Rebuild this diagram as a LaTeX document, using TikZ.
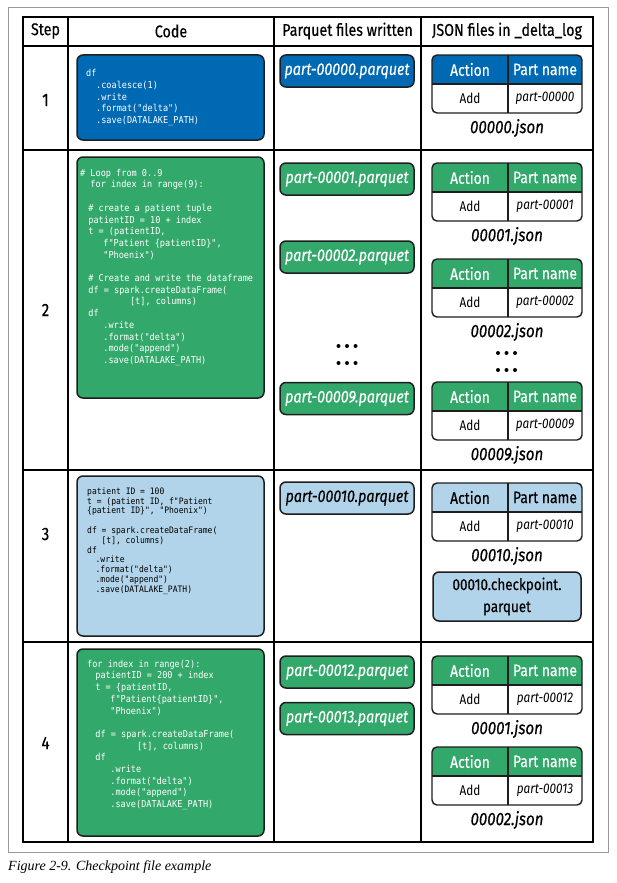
\documentclass[tikz,border=0pt]{standalone}
\usepackage{fontspec}
\setmainfont{Fira Sans}[FakeStretch=0.84, FakeBold=0.4]
\newfontfamily\lightf{Fira Sans}[FakeStretch=0.84]
\newfontfamily\codefont{DejaVu Sans Mono}[FakeStretch=0.9]
\newfontfamily\capfont{Liberation Serif}
\definecolor{oblue}{RGB}{0,105,180}
\definecolor{ogreen}{RGB}{51,168,107}
\definecolor{olight}{RGB}{178,212,234}
\definecolor{oline}{RGB}{30,30,30}
\tikzset{
  grid/.style={line width=1.8pt, black},
  tline/.style={line width=1.4pt, oline},
  codebox/.style={draw=oline, line width=1.5pt, rounded corners=6pt, inner sep=0pt},
  codetxt/.style={anchor=north west, align=left, inner sep=0pt},
  pq/.style={draw=oline, line width=1.5pt, rounded corners=6pt, minimum width=134pt, minimum height=32pt, inner sep=0pt, font=\fontsize{17}{20}\selectfont\itshape},
  hdr/.style={font=\fontsize{17}{20}\selectfont},
  stepnum/.style={font=\fontsize{18}{21}\selectfont},
  jh/.style={font=\fontsize{16.5}{20}\selectfont},
  jb/.style={font=\lightf\fontsize{14}{17}\selectfont},
  jbi/.style={font=\lightf\fontsize{14}{17}\selectfont\itshape},
  jname/.style={font=\fontsize{18}{21}\selectfont\itshape},
  dotc/.style={fill=black},
}
\newcommand\jtab[6]{%
  \begin{scope}
    \clip[rounded corners=5pt] (432,#2) rectangle (582,#2+58);
    \fill[#3] (432,#2) rectangle (582,#2+29);
  \end{scope}
  \draw[tline] (432,#2+29) -- (582,#2+29) (508,#2) -- (508,#2+58);
  \draw[tline, rounded corners=5pt] (432,#2) rectangle (582,#2+58);
  \node[jh, text=#4] (#1act) at (470,#2+14.5) {Action};
  \node[jh, text=#4] (#1pn) at (545,#2+14.5) {Part name};
  \node[jb] (#1add) at (470,#2+43.5) {Add};
  \node[jbi] (#1part) at (545,#2+43.5) {#5};
  \node[jname] (#1json) at (507,#2+73) {#6};
}
\begin{document}
\begin{tikzpicture}[x=1pt,y=-1pt]
\useasboundingbox (0,0) rectangle (616,883);
\fill[white] (0,0) rectangle (616,883);
% outer frame
\draw[line width=1pt, black!40] (8,8) rectangle (608,852);
% table grid
\draw[grid] (23,17) rectangle (593,842);
\draw[grid] (68,17) -- (68,842) (274,17) -- (274,842) (421,17) -- (421,842);
\draw[grid] (23,46) -- (593,46) (23,150) -- (593,150) (23,470) -- (593,470) (23,642) -- (593,642);
% headers
\node[hdr] (hstep) at (45.5,31) {Step};
\node[hdr] (hcode) at (171,31) {Code};
\node[hdr] (hpq) at (347.5,31) {Parquet files written};
\node[hdr] (hjson) at (507,31) {JSON files in \_delta\_log};
% step numbers
\node[stepnum] (s1) at (45.5,100) {1};
\node[stepnum] (s2) at (45.5,310) {2};
\node[stepnum] (s3) at (45.5,534) {3};
\node[stepnum] (s4) at (45.5,743) {4};
% code boxes
\node[codebox, fill=oblue, minimum width=187pt, minimum height=85pt] (c1) at (170.5,97.5) {};
\node[codetxt, text=white, font=\codefont\fontsize{9.5}{11.7}\selectfont] (c1t) at (86,69) {%
\rule{0pt}{7.5pt}df\\
\hspace*{1.05em}.coalesce(1)\\
\hspace*{1.05em}.write\\
\hspace*{1.05em}.format("delta")\\
\hspace*{1.05em}.save(DATALAKE\_PATH)};
\node[codebox, fill=ogreen, minimum width=187pt, minimum height=241pt] (c2) at (170.5,277.5) {};
\node[codetxt, text=white, font=\codefont\fontsize{9.5}{11.7}\selectfont] (c2t) at (80,168.5) {%
\rule{0pt}{7.5pt}\# Loop from 0..9\\
\hspace*{1.08em}for index in range(9):\\[11.7pt]
\hspace*{0.86em}\# create a patient tuple\\
\hspace*{0.86em}patientID = 10 + index\\
\hspace*{0.86em}t = (patientID,\\
\hspace*{2.44em}f"Patient \{patientID\}",\\
\hspace*{2.44em}"Phoenix")\\[11.7pt]
\hspace*{0.86em}\# Create and write the dataframe\\
\hspace*{0.86em}df = spark.createDataFrame(\\
\hspace*{5.25em}[t], columns)\\
\hspace*{0.86em}df\\
\hspace*{2.44em}.write\\
\hspace*{2.44em}.format("delta")\\
\hspace*{2.44em}.mode("append")\\
\hspace*{2.44em}.save(DATALAKE\_PATH)};
\node[codebox, fill=olight, minimum width=187pt, minimum height=160pt] (c3) at (170.5,556) {};
\node[codetxt, text=black, font=\codefont\fontsize{8.9}{9.8}\selectfont] (c3t) at (87,487) {%
\rule{0pt}{7pt}patient ID = 100\\
t = (patient ID, f"Patient\\
\{patient ID\}", "Phoenix")\\[9.8pt]
df = spark.createDataFrame(\\
\hspace*{1.62em}[t], columns)\\
df\\
\hspace*{0.95em}.write\\
\hspace*{0.95em}.format("delta")\\
\hspace*{0.95em}.mode("append")\\
\hspace*{0.95em}.save(DATALAKE\_PATH)};
\node[codebox, fill=ogreen, minimum width=187pt, minimum height=187pt] (c4) at (170.5,742.5) {};
\node[codetxt, text=white, font=\codefont\fontsize{9.5}{11.7}\selectfont] (c4t) at (87,659.5) {%
\rule{0pt}{7.5pt}for index in range(2):\\
\hspace*{0.86em}patientID = 200 + index\\
\hspace*{0.86em}t = \{patientID,\\
\hspace*{2.44em}f"Patient\{patientID\}",\\
\hspace*{2.44em}"Phoenix")\\[11.7pt]
\hspace*{0.86em}df = spark.createDataFrame(\\
\hspace*{5.25em}[t], columns)\\
\hspace*{0.86em}df\\
\hspace*{2.44em}.write\\
\hspace*{2.44em}.format("delta")\\
\hspace*{2.44em}.mode("append")\\
\hspace*{2.44em}.save(DATALAKE\_PATH)};
% parquet files
\node[pq, fill=oblue, text=white] (p0) at (347,71) {part-00000.parquet};
\node[pq, fill=ogreen, text=white] (p1) at (347,179) {part-00001.parquet};
\node[pq, fill=ogreen, text=white] (p2) at (347,257) {part-00002.parquet};
\node[pq, fill=ogreen, text=white] (p9) at (347,398.5) {part-00009.parquet};
\node[pq, fill=olight, text=black] (p10) at (347,498) {part-00010.parquet};
\node[pq, fill=ogreen, text=white] (p12) at (347,672) {part-00012.parquet};
\node[pq, fill=ogreen, text=white] (p13) at (347,718.5) {part-00013.parquet};
% dots
\foreach \dx in {338.5,347,355.5}{\fill[dotc] (\dx,346) circle (2pt); \fill[dotc] (\dx,363) circle (2pt);}
\foreach \dx in {498,506.5,515}{\fill[dotc] (\dx,353) circle (2pt); \fill[dotc] (\dx,370) circle (2pt);}
% json tables
\jtab{ja}{55}{oblue}{white}{part-00000}{00000.json}
\jtab{jb}{163}{ogreen}{white}{part-00001}{00001.json}
\jtab{jc}{259}{ogreen}{white}{part-00002}{00002.json}
\jtab{jd}{382}{ogreen}{white}{part-00009}{00009.json}
\jtab{je}{483}{olight}{black}{part-00010}{00010.json}
\jtab{jf}{656}{ogreen}{white}{part-00012}{00001.json}
\jtab{jg}{747}{ogreen}{white}{part-00013}{00002.json}
% checkpoint
\node[draw=oline, line width=1.5pt, rounded corners=6pt, fill=olight, minimum width=148pt, minimum height=49pt, align=center, inner sep=0pt, font=\fontsize{16}{22}\selectfont] (ckpt) at (507,596.5) {00010.checkpoint.\\parquet};
% caption
\node[anchor=west, inner sep=0pt, font=\capfont\itshape\fontsize{14}{17}\selectfont] (cap) at (8,867) {Figure 2-9. Checkpoint file example};
\end{tikzpicture}
\end{document}
